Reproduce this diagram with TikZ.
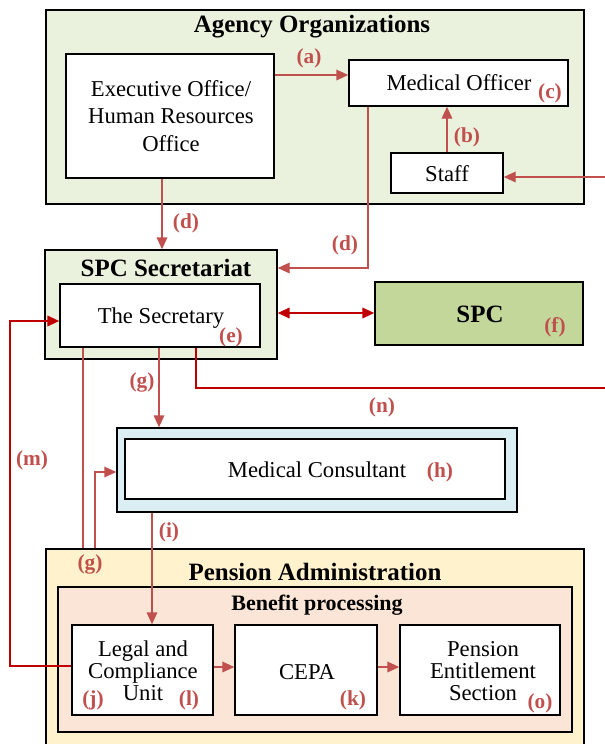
\documentclass[tikz,border=0pt]{standalone}
\usepackage{fontspec}
\setmainfont{Liberation Serif}
\usetikzlibrary{arrows.meta,fit}
\definecolor{lred}{HTML}{C0504D}
\definecolor{dred}{HTML}{C00000}
\definecolor{agreen}{HTML}{EAF1DD}
\definecolor{spcgreen}{HTML}{C4D79B}
\definecolor{lblue}{HTML}{DAEEF3}
\definecolor{lyellow}{HTML}{FFF2CC}
\definecolor{lpeach}{HTML}{FBE5D6}
\tikzset{
  boxfit/.style={draw=black, line width=1.1pt, inner sep=0pt, fill=white},
  grp/.style={draw=black, line width=1.1pt, inner sep=0pt},
  txt/.style={inner sep=0pt, align=center, font=\fontsize{17}{20.6}\selectfont},
  txtt/.style={inner sep=0pt, align=center, font=\fontsize{17}{16.5}\selectfont},
  ttl/.style={font=\bfseries\fontsize{18.7}{21}\selectfont, inner sep=0pt},
  lbl/.style={text=lred, font=\bfseries\fontsize{16}{18}\selectfont, inner sep=0pt},
  conn/.style={draw=lred, line width=1.1pt},
  arr/.style={conn, -{Triangle[length=9pt,width=8pt]}},
  dconn/.style={draw=dred, line width=1.4pt},
  darr/.style={dconn, -{Triangle[length=9pt,width=8pt]}},
  ddarr/.style={dconn, {Triangle[length=9pt,width=8pt]}-{Triangle[length=9pt,width=8pt]}},
}
\begin{document}
\begin{tikzpicture}[x=0.75pt,y=-0.75pt]
\useasboundingbox (0,0) rectangle (605,744);
% group boxes
\node[grp, fill=agreen, fit={(46,10) (584,204)}] (agency) {};
\node[ttl] (agencyT) at (312,27) {Agency Organizations};
\node[boxfit, fit={(66,54) (274,178)}] (exec) {};
\node[txt] (execT) at (171,116) {Executive Office/\\Human Resources\\Office};
\node[boxfit, fit={(349,60) (568,106)}] (mo) {};
\node[txt] (moT) at (459,83) {Medical Officer};
\node[boxfit, fit={(391,153) (503,193)}] (staff) {};
\node[txt] (staffT) at (447,174) {Staff};

\node[grp, fill=agreen, fit={(45,250) (277,359)}] (secr) {};
\node[ttl] (secrT) at (166,268) {SPC Secretariat};
\node[boxfit, fit={(60,284) (260,347)}] (secy) {};
\node[txt] (secyT) at (161,318) {The Secretary};
\node[grp, fill=spcgreen, fit={(375,282) (583,345)}] (spc) {};
\node[ttl] (spcT) at (480,314) {SPC};

\node[grp, fill=lblue, fit={(117,428) (517,512)}] (mcout) {};
\node[boxfit, fit={(125,439) (505,499)}] (mcin) {};
\node[txt] (mcT) at (317,470) {Medical Consultant};

\node[grp, fill=lyellow, fit={(46,549) (584,770)}] (pension) {};
\node[ttl] (pensionT) at (315,572) {Pension Administration};
\node[grp, fill=lpeach, fit={(58,587) (572,732)}] (benefit) {};
\node[ttl, font=\bfseries\fontsize{16.5}{19}\selectfont] (benefitT) at (317,605) {Benefit processing};
\node[boxfit, fit={(72,625) (213,715)}] (legal) {};
\node[txtt] (legalT) at (143,671) {Legal and\\Compliance\\Unit};
\node[boxfit, fit={(235,625) (377,715)}] (cepa) {};
\node[txt] (cepaT) at (307,672) {CEPA};
\node[boxfit, fit={(400,625) (560,715)}] (pes) {};
\node[txtt] (pesT) at (483,671) {Pension\\Entitlement\\Section};

% connectors
\coordinate (rs) at (615,177);
\coordinate (rn) at (615,388);
\draw[arr] (exec.east |- 0,75) -- (mo.west |- 0,75);
\draw[arr] (staff.north) -- (staff.north |- mo.south);
\draw[arr] (rs) -- (staff.east |- rs);
\draw[arr] (exec.south -| 162,0) -- (secr.north -| 162,0);
\draw[arr] (mo.south -| 368,0) -- (368,268) -- (secr.east |- 0,268);
\draw[ddarr] (secr.east |- 0,313) -- (spc.west |- 0,313);
\draw[arr] (secy.south -| 159,0) -- (mcout.north -| 159,0);
\draw[dconn] (secy.south -| 196,0) -- (196,388) -- (rn);
\draw[conn] (secy.south -| 83,0) -- (pension.north -| 83,0);
\draw[arr] (pension.north -| 95,0) -- (95,472) -- (mcout.west |- 0,472);
\draw[arr] (mcout.south -| 152,0) -- (legal.north -| 152,0);
\draw[darr] (legal.west |- 0,666) -- (10,666) -- (10,321) -- (secy.west |- 0,321);
\draw[arr] (legal.east |- 0,667) -- (cepa.west |- 0,667);
\draw[arr] (cepa.east |- 0,667) -- (pes.west |- 0,667);

% labels
\node[lbl] (la) at (309,58) {(a)};
\node[lbl] (lb) at (467,137) {(b)};
\node[lbl] (lc) at (550,93) {(c)};
\node[lbl] (ld1) at (186,223) {(d)};
\node[lbl] (ld2) at (345,245) {(d)};
\node[lbl] (le) at (231,337) {(e)};
\node[lbl] (lf) at (555,327) {(f)};
\node[lbl] (lg1) at (142,382) {(g)};
\node[lbl] (ln) at (382,407) {(n)};
\node[lbl] (lm) at (32,460) {(m)};
\node[lbl] (lh) at (440,472) {(h)};
\node[lbl] (li) at (169,532) {(i)};
\node[lbl] (lg2) at (90,564) {(g)};
\node[lbl] (lj) at (93,700) {(j)};
\node[lbl] (ll) at (189,700) {(l)};
\node[lbl] (lk) at (353,700) {(k)};
\node[lbl] (lo) at (540,703) {(o)};
\end{tikzpicture}
\end{document}
